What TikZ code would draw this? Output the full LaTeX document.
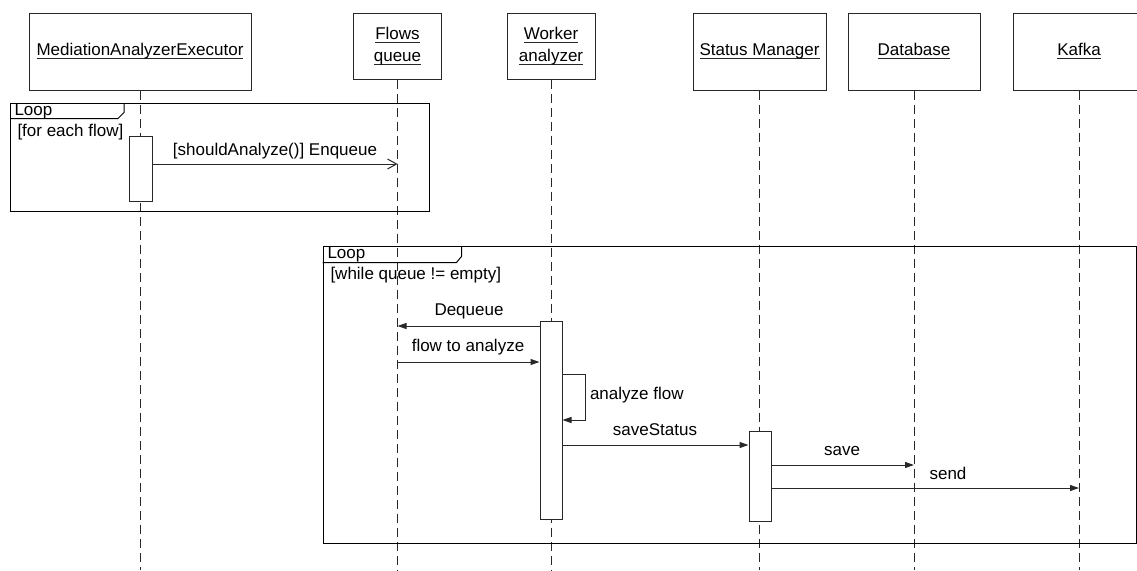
\documentclass[tikz,border=0pt]{standalone}
\usepackage{fontspec}
\setmainfont{Liberation Sans}
\usetikzlibrary{arrows.meta,calc}
\definecolor{linec}{RGB}{40,40,40}
% underlined text with a 1pt rule a little below the baseline
\newcommand{\undl}[1]{\setbox0\hbox{#1}\leavevmode\rlap{\color{linec}\vrule width\wd0 height -2.4pt depth 3.4pt}\box0}
\begin{document}
\begin{tikzpicture}[x=1pt,y=-1pt,line width=1pt,
  every node/.style={font=\fontsize{17}{22}\selectfont, inner sep=0pt},
  obj/.style={draw=linec, fill=white, align=center, minimum height=77pt},
  objs/.style={draw=linec, fill=white, align=center, minimum width=88pt, minimum height=66pt},
  life/.style={draw=linec, dash pattern=on 9pt off 5pt},
  act/.style={draw=linec, fill=white, minimum width=22pt},
  msg/.style={draw=linec, -{Triangle[length=9pt,width=6pt]}},
  async/.style={draw=linec, -{Straight Barb[length=9pt,width=10pt]}},
  fragment/.style={draw=black, anchor=north west}]
\useasboundingbox (0,0) rectangle (1137,570);
\clip (0,0) rectangle (1137,570);

% participants
\node[obj, minimum width=222pt] (mae) at (140,51.5) {\undl{MediationAnalyzerExecutor}};
\node[objs] (fq) at (397.5,46) {\undl{Flows}\\\undl{queue}};
\node[objs] (wa) at (551,46) {\undl{Worker}\\\undl{analyzer}};
\node[obj, minimum width=133pt] (sm) at (759.5,51.5) {\undl{Status Manager}};
\node[obj, minimum width=132pt] (db) at (914,51.5) {\undl{Database}};
\node[obj, minimum width=132pt] (kf) at (1079,51.5) {\undl{Kafka}};

% lifelines
\coordinate (bottom) at (0,570);
\foreach \p in {mae,fq,wa,sm,db,kf}
  \draw[life] (\p.south) -- (\p.south |- bottom);

% first loop fragment
\node[fragment, minimum width=419pt, minimum height=108pt] (loop1) at (10,103) {};
\draw[black] ($(loop1.north west)+(0,15.5)$) -- ++(108,0) -- ++(6,-6) -- ++(0,-9.5);
\node[anchor=west] (loop1-name) at (14,111.5) {Loop};
\node[anchor=west] (loop1-guard) at (17,132) {[for each flow]};

% second loop fragment
\node[fragment, minimum width=813.5pt, minimum height=297pt] (loop2) at (322.5,246) {};
\draw[black] ($(loop2.north west)+(0,16.5)$) -- ++(134,0) -- ++(5,-6) -- ++(0,-10.5);
\node[anchor=west] (loop2-name) at (327,254.5) {Loop};
\node[anchor=west] (loop2-guard) at (330,275) {[while queue != empty]};

% activations
\node[act, minimum width=23pt, minimum height=65pt] (mae-act) at (140.5,168.5) {};
\node[act, minimum height=198pt] (wa-act) at (551,420) {};
\node[act, minimum height=90pt] (sm-act) at (760,476) {};

% message points on the lifelines
\coordinate (fq-enq) at (397.5,164);
\coordinate (fq-deq) at (397.5,326);
\coordinate (fq-flow) at (397.5,362);
\coordinate (self-top) at (585,374);
\coordinate (self-bot) at (585,420);
\coordinate (sm-ss) at (760,445);
\coordinate (db-save) at (914,465);
\coordinate (kf-send) at (1079,488);

% messages
\draw[async] (mae-act.east |- fq-enq) -- (fq-enq);
\node (enq-lbl) at (275,151) {[shouldAnalyze()] Enqueue};

\draw[msg] (wa-act.west |- fq-deq) -- (fq-deq);
\node (deq-lbl) at (469,311.5) {Dequeue};

\draw[msg] (fq-flow) -- (wa-act.west |- fq-flow);
\node (flow-lbl) at (468,347.5) {flow to analyze};

\draw[msg] (wa-act.east |- self-top) -- (self-top) -- (self-bot) -- (wa-act.east |- self-bot);
\node[anchor=west] (self-lbl) at (589.5,395) {analyze flow};

\draw[msg] (wa-act.east |- sm-ss) -- (sm-act.west |- sm-ss);
\node (ss-lbl) at (655,430) {saveStatus};

\draw[msg] (sm-act.east |- db-save) -- (db-save);
\node (save-lbl) at (842,451) {save};

\draw[msg] (sm-act.east |- kf-send) -- (kf-send);
\node (send-lbl) at (948,473) {send};
\end{tikzpicture}
\end{document}
